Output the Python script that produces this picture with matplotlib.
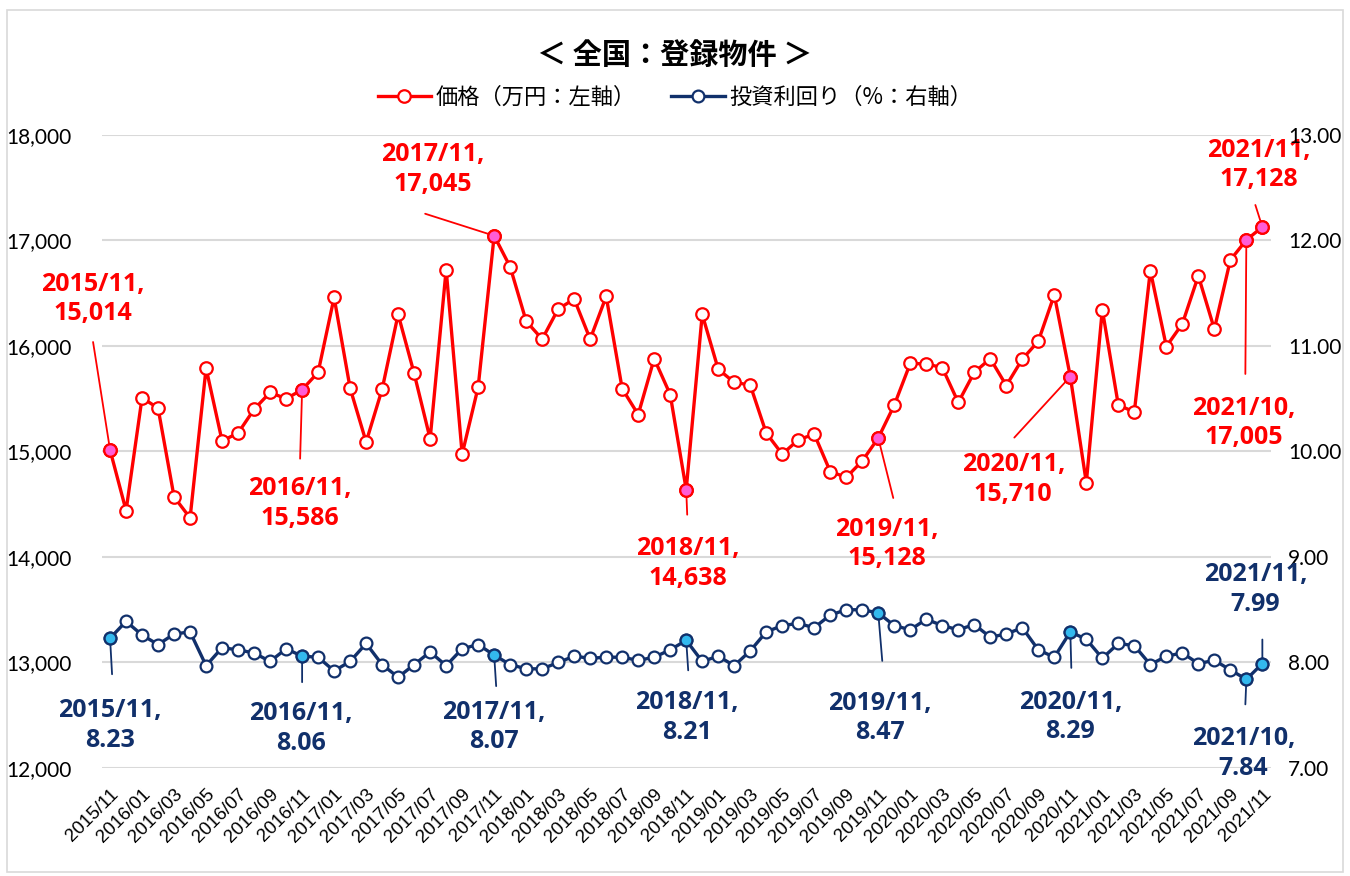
import matplotlib
matplotlib.use("Agg")
import matplotlib.pyplot as plt
from matplotlib.patches import Rectangle
import pandas as pd

plt.rcParams['font.family'] = ['Noto Sans CJK JP', 'DejaVu Sans']

months = list(pd.date_range("2015-11-01", periods=73, freq="MS").strftime("%Y/%m"))

price = [
    15014, 14440, 15510, 15410, 14570, 14370, 15790, 15100, 15175, 15400, 15560, 15500,
    15586, 15750, 16460, 15600, 15090, 15590, 16300, 15740, 15120, 16725, 14975, 15610,
    17045, 16750, 16235, 16065, 16350, 16445, 16065, 16470, 15595, 15350, 15880, 15540,
    14638, 16300, 15780, 15655, 15630, 15175, 14975, 15110, 15165, 14810, 14755, 14910,
    15128, 15440, 15835, 15830, 15795, 15465, 15750, 15880, 15625, 15875, 16045, 16485,
    15710, 14705, 16345, 15440, 15375, 16715, 15995, 16210, 16665, 16160, 16815, 17005,
    17128,
]

yield_pct = [
    8.23, 8.39, 8.26, 8.17, 8.27, 8.29, 7.97, 8.14, 8.12, 8.09, 8.01, 8.13,
    8.06, 8.05, 7.92, 8.01, 8.18, 7.98, 7.86, 7.98, 8.10, 7.97, 8.13, 8.17,
    8.07, 7.98, 7.94, 7.94, 8.00, 8.06, 8.04, 8.05, 8.05, 8.02, 8.05, 8.12,
    8.21, 8.01, 8.06, 7.97, 8.11, 8.29, 8.35, 8.37, 8.33, 8.45, 8.50, 8.50,
    8.47, 8.35, 8.31, 8.41, 8.35, 8.31, 8.36, 8.24, 8.27, 8.33, 8.12, 8.05,
    8.29, 8.22, 8.04, 8.18, 8.16, 7.98, 8.06, 8.09, 7.99, 8.02, 7.93, 7.84,
    7.99,
]

highlight = [0, 12, 24, 36, 48, 60, 71, 72]

# label offsets in pixels: (text dx, text dy, line dx, line dy)
price_notes = {
    0: (-17, 151, -17, 108),
    12: (-2, -114, -2, -69),
    24: (-61, 66, -69, 22),
    36: (2, -74, 1, -25),
    48: (9, -106, 15, -60),
    60: (-57, -103, -56, -61),
    71: (-3, -183, -1, -134),
    72: (-4, 62, -7, 22),
}
yield_notes = {
    0: (0, -87, 2, -36),
    12: (-1, -72, 0, -26),
    24: (0, -72, 2, -31),
    36: (1, -77, 2, -30),
    48: (2, -105, 4, -48),
    60: (0, -85, 1, -36),
    71: (-3, -74, -1, -25),
    72: (-7, 74, 0, 24),
}

RED = "#FF0000"
PINK = "#FF5CD6"
NAVY = "#11306B"
CYAN = "#33B9EE"

fig = plt.figure(figsize=(13.5, 8.76), dpi=100)
ax = fig.add_axes([0.0756, 0.1233, 0.866, 0.7226])
ax2 = ax.twinx()

x = list(range(len(months)))

ax.plot(x, price, color=RED, lw=2.4, marker="o", ms=9, mfc="white", mec=RED, mew=1.6,
        zorder=3, label="価格（万円：左軸）")
ax.plot(highlight, [price[i] for i in highlight], ls="none", marker="o", ms=9,
        mfc=PINK, mec=RED, mew=1.6, zorder=4)

ax2.plot(x, yield_pct, color=NAVY, lw=2.4, marker="o", ms=8.5, mfc="white", mec=NAVY,
         mew=1.6, zorder=3, label="投資利回り（%：右軸）")
ax2.plot(highlight, [yield_pct[i] for i in highlight], ls="none", marker="o", ms=8.5,
         mfc=CYAN, mec=NAVY, mew=1.6, zorder=4)

ax.set_xlim(-0.5, 72.55)
ax.set_ylim(12000, 18000)
ax2.set_ylim(7, 13)
ax.set_yticks(range(12000, 18001, 1000))
ax.set_yticklabels([f"{v:,}" for v in range(12000, 18001, 1000)])
ax2.set_yticks(range(7, 14))
ax2.set_yticklabels([f"{v:.2f}" for v in range(7, 14)])

ax.set_xticks(x[::2])
ax.set_xticklabels(months[::2], rotation=45, ha="right", rotation_mode="anchor",
                   fontsize=13.5, family="Liberation Sans")

ax.grid(axis="y", color="#D9D9D9", lw=1.5)
ax.set_axisbelow(True)
for a in (ax, ax2):
    for s in a.spines.values():
        s.set_visible(False)
    a.tick_params(length=0)
ax.tick_params(axis="y", labelsize=15, pad=22)
ax.tick_params(axis="x", pad=13)
ax2.tick_params(axis="y", labelsize=15, pad=12)
for lab in ax.get_yticklabels() + ax2.get_yticklabels():
    lab.set_family("Lato")

for i, (tx, ty, lx, ly) in price_notes.items():
    ax.annotate(f"{months[i]},\n{price[i]:,}", xy=(i, price[i]), xytext=(tx, ty),
                textcoords="offset pixels", ha="center", va="center", color=RED,
                fontsize=18, fontweight="bold", family="Open Sans", linespacing=1.25,
                zorder=6)
    ax.annotate("", xy=(i, price[i]), xytext=(lx, ly), textcoords="offset pixels",
                arrowprops=dict(arrowstyle="-", color=RED, lw=1.3, shrinkA=0, shrinkB=0))

for i, (tx, ty, lx, ly) in yield_notes.items():
    ax2.annotate(f"{months[i]},\n{yield_pct[i]:.2f}", xy=(i, yield_pct[i]), xytext=(tx, ty),
                 textcoords="offset pixels", ha="center", va="center", color=NAVY,
                 fontsize=18, fontweight="bold", family="Open Sans", linespacing=1.25,
                 zorder=6)
    ax2.annotate("", xy=(i, yield_pct[i]), xytext=(lx, ly), textcoords="offset pixels",
                 arrowprops=dict(arrowstyle="-", color=NAVY, lw=1.3, shrinkA=0, shrinkB=0))

fig.text(0.5, 1 - 55 / 876, "＜ 全国：登録物件 ＞", ha="center", va="center",
         fontsize=21, fontweight="bold")

h1, l1 = ax.get_legend_handles_labels()
h2, l2 = ax2.get_legend_handles_labels()
fig.legend(h1 + h2, l1 + l2, loc="center", bbox_to_anchor=(0.5, 1 - 97 / 876), ncol=2,
           frameon=False, fontsize=16, handlelength=2.4, handletextpad=0.2,
           columnspacing=1.6)

fig.patches.append(Rectangle((7 / 1350, 0.004), 1336 / 1350, 1 - 10 / 876 - 0.004,
                             transform=fig.transFigure, fill=False, ec="#D9D9D9", lw=1.2))

fig.savefig("out.png", dpi=100)
